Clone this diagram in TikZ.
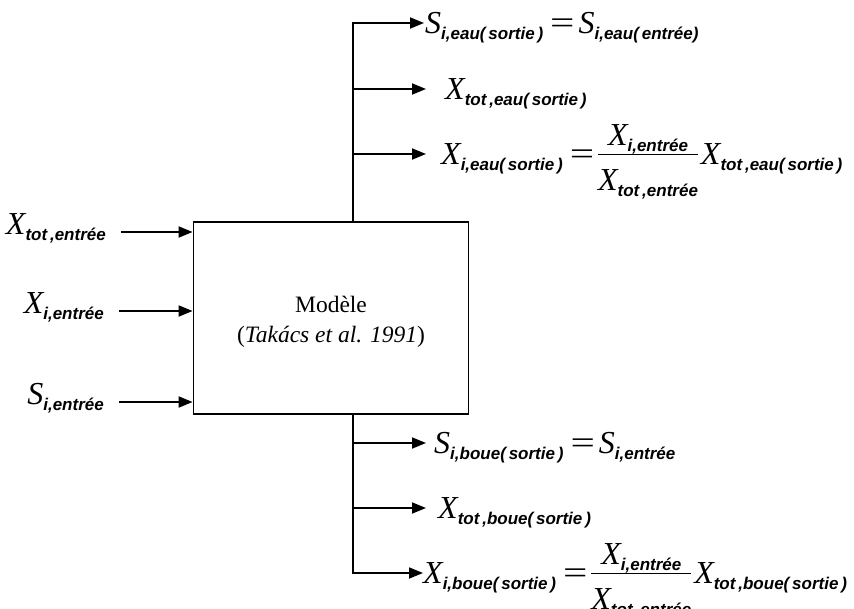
\documentclass[tikz,border=0pt]{standalone}
\usepackage{fontspec}
\setmainfont{Liberation Serif}
\setsansfont{Liberation Sans}
\usepackage{graphicx}
\usetikzlibrary{positioning,arrows.meta}

\newcommand{\vname}[2]{{\itshape #1}\raisebox{-6pt}{\fontsize{17}{17}\selectfont\sffamily\bfseries\itshape #2}}
\newcommand{\eqs}{\hspace{7pt}\scalebox{1.35}[1]{=}\hspace{4pt}}
\newcommand{\ratio}[2]{\lower26pt\vbox{\halign{\hfil##\hfil\cr#1\cr\noalign{\hrule height 1.2pt\kern14pt}#2\cr}}}

\begin{document}
\begin{tikzpicture}[x=1pt, y=-1pt,
    flow/.style={line width=1.8pt, -{Triangle[length=14pt,width=11pt]}},
    inlab/.style={anchor=east, inner sep=0pt, text height=22pt, text depth=18pt, font=\fontsize{32}{36}\selectfont},
    outlab/.style={anchor=west, inner sep=0pt, text height=40pt, text depth=20pt, font=\fontsize{32}{36}\selectfont}]
    \useasboundingbox (0,0) rectangle (854,608);
    \node[draw, line width=1.8pt, minimum width=275pt, minimum height=192pt, align=center,
      font=\fontsize{23.5}{30}\selectfont] (model) at (331,318) {\rule{0pt}{23pt}Modèle\\(\textit{Takács et al. 1991})};
    \node[inlab] (xtot) at (106,232) {\vname{X}{tot\,,entrée}};
    \node[inlab] (xi) at (104,311) {\vname{X}{i,entrée}};
    \node[inlab] (si) at (104,402) {\vname{S}{i,entrée}};
    \foreach \n in {xtot,xi,si}
      \draw[flow, shorten <=15pt] (\n) -- (\n -| model.west);
    \coordinate (up) at ([xshift=22pt]model.north);
    \coordinate (down) at ([xshift=22pt]model.south);
    \node[outlab] (eau1) at (425,23) {\vname{S}{i,eau(\,sortie\,)}\eqs\vname{S}{i,eau(\,entrée)}};
    \node[outlab] (eau2) at (445,89) {\vname{X}{tot\,,eau(\,sortie\,)}};
    \node[outlab] (eau3) at (441,154) {\vname{X}{i,eau(\,sortie\,)}\eqs\ratio{\vname{X}{i,entrée}}{\vname{X}{tot\,,entrée}}\hspace{3pt}\vname{X}{tot\,,eau(\,sortie\,)}};
    \node[outlab] (boue1) at (434,443) {\vname{S}{i,boue(\,sortie\,)}\eqs\vname{S}{i,entrée}};
    \node[outlab] (boue2) at (438,508) {\vname{X}{tot\,,boue(\,sortie\,)}};
    \node[outlab] (boue3) at (423,573) {\vname{X}{i,boue(\,sortie\,)}\eqs\ratio{\vname{X}{i,entrée}}{\vname{X}{tot\,,entrée}}\hspace{3pt}\vname{X}{tot\,,boue(\,sortie\,)}};
    \foreach \n/\g in {eau1/1,eau2/19,eau3/15}
      \draw[flow, shorten >=\g pt] (up) |- (\n);
    \foreach \n/\g in {boue1/8,boue2/12,boue3/0}
      \draw[flow, shorten >=\g pt] (down) |- (\n);
\end{tikzpicture}
\end{document}
